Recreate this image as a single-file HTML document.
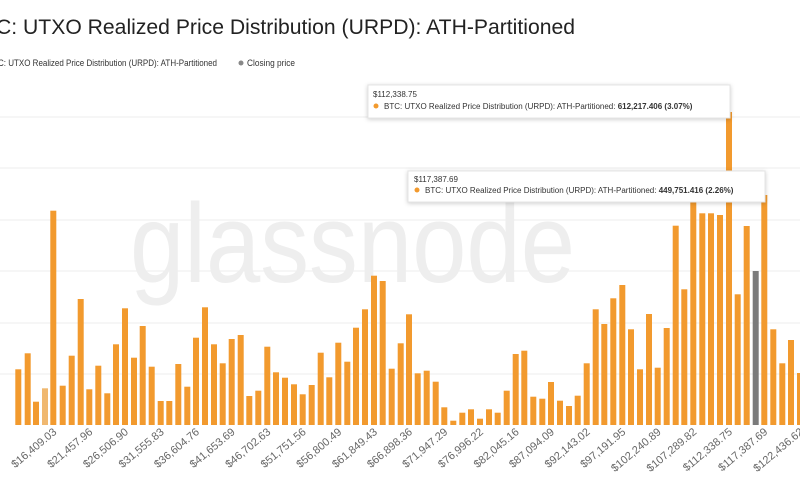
<!DOCTYPE html>
<html><head><meta charset="utf-8"><style>
html,body{margin:0;padding:0;background:#fff;width:800px;height:500px;overflow:hidden}
svg{display:block;font-family:"Liberation Sans",sans-serif}
</style></head><body>
<svg width="800" height="500" viewBox="0 0 800 500">
<text x="-4" y="34" font-size="21" fill="#222" textLength="579" lengthAdjust="spacingAndGlyphs">C: UTXO Realized Price Distribution (URPD): ATH-Partitioned</text>
<text x="-2" y="66" font-size="9" fill="#333" textLength="219" lengthAdjust="spacingAndGlyphs">C: UTXO Realized Price Distribution (URPD): ATH-Partitioned</text>
<circle cx="241" cy="63" r="2.5" fill="#888"/>
<text x="247" y="66" font-size="9" fill="#333" textLength="48" lengthAdjust="spacingAndGlyphs">Closing price</text>
<g stroke="#ececec" stroke-width="1">
<line x1="0" y1="117" x2="800" y2="117"/><line x1="0" y1="168" x2="800" y2="168"/><line x1="0" y1="220" x2="800" y2="220"/><line x1="0" y1="271" x2="800" y2="271"/><line x1="0" y1="323" x2="800" y2="323"/><line x1="0" y1="374" x2="800" y2="374"/>
</g>
<text x="130" y="282" font-size="112" fill="#eeeeee" textLength="445" lengthAdjust="spacingAndGlyphs">glassnode</text>
<g id="bars"></g>
<g id="labels" font-size="11" fill="#666"></g>
<g>
<rect x="368" y="85" width="362" height="33" fill="#fff" stroke="#e4e4e4" style="filter:drop-shadow(0 1px 2px rgba(0,0,0,.2))"/>
<text x="373" y="97" font-size="8" fill="#333">$112,338.75</text>
<circle cx="376" cy="106" r="2.5" fill="#f29a2e"/>
<text x="384" y="109" font-size="8" fill="#333">BTC: UTXO Realized Price Distribution (URPD): ATH-Partitioned: <tspan font-weight="bold">612,217.406 (3.07%)</tspan></text>
<rect x="408" y="171" width="357" height="31" fill="#fff" stroke="#e4e4e4" style="filter:drop-shadow(0 1px 2px rgba(0,0,0,.2))"/>
<text x="414" y="182" font-size="8" fill="#333">$117,387.69</text>
<circle cx="417" cy="190" r="2.5" fill="#f29a2e"/>
<text x="425" y="193" font-size="8" fill="#333">BTC: UTXO Realized Price Distribution (URPD): ATH-Partitioned: <tspan font-weight="bold">449,751.416 (2.26%)</tspan></text>
</g>
</svg>
<script>
var d=[[18.3,369.3],[27.7,353.3],[36,401.7],[45,388.3],[53.3,210.7],[62.7,385.7],[71.7,355.7],[80.7,299],[89.3,389.3],[98.3,365.7],[107.3,393.3],[116,344.3],[125,308.3],[134,357.7],[142.7,326],[151.7,366.7],[160.7,401],[169.3,401],[178.3,364],[187.3,386.7],[196,337.7],[205,307.3],[214,344.3],[222.7,363.3],[231.7,339],[240.7,335],[249.3,396],[258.3,390.7],[267.3,346.7],[276,372.3],[285,377.7],[294,384.3],[302.7,394.3],[311.7,385],[320.7,352.7],[329.3,377.3],[338.3,342.7],[347.3,361.7],[356,327.7],[365,309.3],[374,275.7],[382.7,281],[391.7,368.7],[400.7,343.3],[409,314.3],[417.7,373.3],[426.7,370.7],[435.7,381.7],[444.3,407.3],[453.3,420.7],[462.3,412.7],[471,409.3],[480,418.7],[489,409.3],[497.7,412.7],[506.7,390.7],[515.7,354],[524.3,350.7],[533.3,396.7],[542.3,398.7],[551,382],[560,400.7],[569,406],[577.7,395.7],[586.7,363.3],[595.7,309.3],[604.3,324],[613.3,298.3],[622.3,285],[631,329.3],[640,369.3],[649,314],[657.7,367.7],[666.7,328],[675.7,225.7],[684.3,289.3],[693.3,201.7],[702.3,213.3],[711,213.3],[720,215],[729,112],[737.7,294.3],[746.7,226],[755.7,271],[764.3,195],[773.3,329.3],[782.3,363.3],[791,340],[800,373]];
var g=document.getElementById("bars"),s="";
d.forEach(function(b,i){var c=i==3?"#f0b870":(i==83?"#7b7b7b":"#f29a2e");s+='<rect x="'+(b[0]-3)+'" y="'+b[1]+'" width="6" height="'+(425-b[1])+'" fill="'+c+'"/>';});
g.innerHTML=s;
var L=["16,409.03","21,457.96","26,506.90","31,555.83","36,604.76","41,653.69","46,702.63","51,751.56","56,800.49","61,849.43","66,898.36","71,947.29","76,996.22","82,045.16","87,094.09","92,143.02","97,191.95","102,240.89","107,289.82","112,338.75","117,387.69","122,436.62"],t="";
L.forEach(function(l,k){var x=d[4+4*k][0]+4,y=433;t+='<text x="'+x+'" y="'+y+'" text-anchor="end" transform="rotate(-40 '+x+' '+y+')">$'+l+'</text>';});
document.getElementById("labels").innerHTML=t;
</script>
</body></html>
